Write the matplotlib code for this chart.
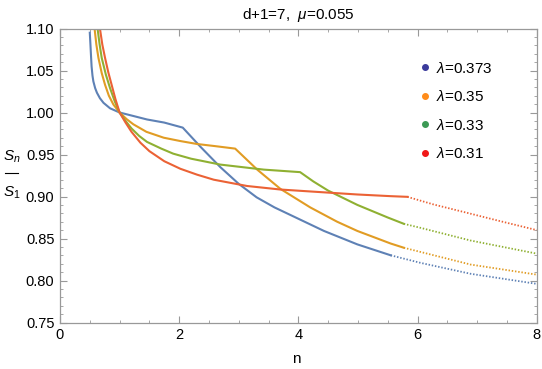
import matplotlib
matplotlib.use('Agg')
from matplotlib import pyplot as plt
from matplotlib.lines import Line2D
from matplotlib.ticker import MultipleLocator, FormatStrFormatter

plt.rcParams['font.family'] = ['Liberation Sans', 'DejaVu Sans']
plt.rcParams['mathtext.fontset'] = 'custom'
plt.rcParams['mathtext.rm'] = 'Liberation Sans'
plt.rcParams['mathtext.it'] = 'Liberation Sans:italic'

# values: solid part, then dotted continuation
lam_labels = ['0.373', '0.35', '0.33', '0.31']

blue_x = [0.50, 0.51, 0.52, 0.53, 0.545, 0.56, 0.59, 0.62, 0.67, 0.73, 0.84, 1.00, 1.25, 1.46, 1.75, 2.06,
          2.36, 2.69, 3.00, 3.30, 3.60, 4.03, 4.43, 4.99, 5.55]
blue_y = [1.095, 1.082, 1.068, 1.055, 1.044, 1.037, 1.029, 1.0235, 1.017, 1.0115, 1.005, 1.000, 0.9955, 0.9917, 0.988, 0.982,
          0.959, 0.935, 0.915, 0.899, 0.887, 0.8725, 0.859, 0.843, 0.830]
blue_dx = [5.55, 6.05, 6.89, 8.0]
blue_dy = [0.830, 0.821, 0.808, 0.796]

orange_x = [0.58, 0.61, 0.645, 0.70, 0.756, 0.82, 0.896, 1.00, 1.12, 1.23, 1.45, 1.74, 2.02, 2.30, 2.60, 2.94,
            3.31, 3.70, 4.20, 4.65, 4.99, 5.55, 5.77]
orange_y = [1.10, 1.081, 1.065, 1.047, 1.033, 1.020, 1.0095, 1.000, 0.992, 0.986, 0.977, 0.970, 0.966, 0.9625, 0.960, 0.957,
            0.932, 0.909, 0.887, 0.870, 0.859, 0.844, 0.839]
orange_dx = [5.77, 6.05, 6.89, 8.0]
orange_dy = [0.839, 0.834, 0.819, 0.807]

green_x = [0.63, 0.665, 0.70, 0.77, 0.84, 0.92, 1.00, 1.10, 1.20, 1.33, 1.46, 1.70, 1.90, 2.20, 2.69, 3.42, 4.03,
           4.25, 4.50, 4.99, 5.50, 5.77]
green_y = [1.10, 1.081, 1.065, 1.045, 1.029, 1.013, 1.000, 0.990, 0.981, 0.972, 0.965, 0.957, 0.951, 0.945, 0.938, 0.932, 0.929,
           0.918, 0.907, 0.890, 0.875, 0.8675]
green_dx = [5.77, 6.05, 6.89, 8.0]
green_dy = [0.8675, 0.8627, 0.8476, 0.832]

red_x = [0.67, 0.71, 0.756, 0.81, 0.87, 0.93, 1.00, 1.10, 1.20, 1.35, 1.50, 1.75, 2.02, 2.30, 2.58, 3.14, 3.70, 4.20,
         4.99, 5.55, 5.83]
red_y = [1.10, 1.081, 1.065, 1.048, 1.032, 1.016, 1.000, 0.988, 0.977, 0.964, 0.954, 0.942, 0.933, 0.926, 0.920, 0.9125, 0.9083, 0.906,
         0.9024, 0.9004, 0.8996]
red_dx = [5.83, 6.27, 6.83, 7.39, 8.0]
red_dy = [0.8996, 0.8905, 0.8806, 0.8706, 0.860]

line_cols = ['#5E81B5', '#E19C24', '#8FB032', '#EB6235']
dot_cols = ['#3B3B9C', '#FF8C1A', '#3C9A55', '#F01818']

series = [(blue_x, blue_y, blue_dx, blue_dy),
          (orange_x, orange_y, orange_dx, orange_dy),
          (green_x, green_y, green_dx, green_dy),
          (red_x, red_y, red_dx, red_dy)]

fig = plt.figure(figsize=(5.42, 3.69), dpi=100)
W, H = 542., 369.
ax = fig.add_axes([60/W, 1-322.5/H, (536.7-60)/W, (322.5-28.5)/H])

for (sx, sy, dx, dy), c in zip(series, line_cols):
    ax.plot(sx, sy, color=c, lw=1.5, solid_joinstyle='round')
    ax.plot(dx, dy, color=c, lw=1.3, linestyle=(0, (0.8, 1.0)))

ax.set_xlim(0, 8)
ax.set_ylim(0.75, 1.10)
ax.xaxis.set_major_locator(MultipleLocator(2))
ax.xaxis.set_minor_locator(MultipleLocator(0.5))
ax.yaxis.set_major_locator(MultipleLocator(0.05))
ax.yaxis.set_minor_locator(MultipleLocator(0.01))
ax.yaxis.set_major_formatter(FormatStrFormatter('%.2f'))
ax.tick_params(which='both', direction='in', top=True, right=True, color='#999999', labelsize=10.5)
ax.tick_params(which='major', length=5, width=0.8, pad=4)
ax.tick_params(which='minor', length=2.5, width=0.6)
for s in ax.spines.values():
    s.set_color('#999999')
    s.set_linewidth(0.9)

ax.set_title(r'd+1=7,  $\mu$=0.055', fontsize=11, pad=7)
fig.text(296/W, 1-359/H, 'n', ha='center', va='center', fontsize=11)
fig.text(12/W, 1-157/H, r'$S_n$', ha='center', va='center', fontsize=11)
fig.text(12/W, 1-193/H, r'$S_1$', ha='center', va='center', fontsize=11)
fig.add_artist(Line2D([5/W, 18/W], [1-173/H, 1-173/H], color='black', lw=0.8))

handles = [Line2D([], [], marker='o', ls='none', color=c, markersize=4) for c in dot_cols]
labels = [r'$\lambda$=' + l for l in lam_labels]
ax.legend(handles, labels, loc='upper left', bbox_to_anchor=(410/W, 1-53/H),
          bbox_transform=fig.transFigure, frameon=False, fontsize=11,
          handletextpad=0.2, labelspacing=0.88, handlelength=1.0, borderpad=0)

fig.savefig('out.png', dpi=100)
